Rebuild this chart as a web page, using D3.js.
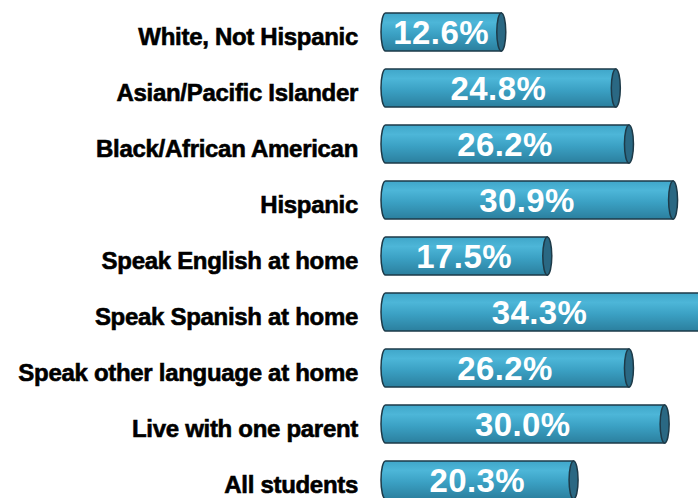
<!DOCTYPE html>
<html>
<head>
<meta charset="utf-8">
<script src="https://cdn.jsdelivr.net/npm/d3@7"></script>
<style>
  body { margin: 0; background: #fff; }
  svg { display: block; }
</style>
</head>
<body>
<div id="chart"></div>
<script>
// data
const categories = [
  "White, Not Hispanic",
  "Asian/Pacific Islander",
  "Black/African American",
  "Hispanic",
  "Speak English at home",
  "Speak Spanish at home",
  "Speak other language at home",
  "Live with one parent",
  "All students"
];
const values = [12.6, 24.8, 26.2, 30.9, 17.5, 34.3, 26.2, 30.0, 20.3];

const width = 698, height = 498;

const svg = d3.select("#chart").append("svg")
    .attr("width", width)
    .attr("height", height);

// gradient for the cylinder body
const defs = svg.append("defs");
const grad = defs.append("linearGradient")
    .attr("id", "barGrad")
    .attr("x1", 0).attr("y1", 0).attr("x2", 0).attr("y2", 1);
grad.append("stop").attr("offset", "0%").attr("stop-color", "#3fa6c9");
grad.append("stop").attr("offset", "25%").attr("stop-color", "#4db6d8");
grad.append("stop").attr("offset", "55%").attr("stop-color", "#3ba1c4");
grad.append("stop").attr("offset", "100%").attr("stop-color", "#2b7f9e");

const x = d3.scaleLinear()
    .domain([0, 34.3])
    .range([383, 705]);

const y = d3.scaleBand()
    .domain(categories)
    .range([4, 508])
    .paddingInner(0.32)
    .paddingOuter(0.16);

const data = categories.map((c, i) => ({ cat: c, val: values[i] }));

const rows = svg.selectAll(".row")
    .data(data)
    .enter().append("g")
    .attr("class", "row");

const capRx = 4.5;

// body of the cylinder
rows.append("path")
    .attr("d", d => {
      const x0 = x(0) - 2, x1 = x(d.val);
      const y0 = y(d.cat), h = y.bandwidth();
      return `M${x1},${y0} L${x0 + capRx},${y0}
              A${capRx},${h / 2} 0 0 0 ${x0 + capRx},${y0 + h}
              L${x1},${y0 + h} Z`;
    })
    .attr("fill", "url(#barGrad)")
    .attr("stroke", "#1d3a48")
    .attr("stroke-width", 1.5);

// right end cap
rows.append("ellipse")
    .attr("cx", d => x(d.val))
    .attr("cy", d => y(d.cat) + y.bandwidth() / 2)
    .attr("rx", capRx)
    .attr("ry", y.bandwidth() / 2)
    .attr("fill", "#2a6883")
    .attr("stroke", "#1d3a48")
    .attr("stroke-width", 1.5);

// value labels inside bars
rows.append("text")
    .attr("x", d => (x(0) - 2 + Math.min(x(d.val), width)) / 2)
    .attr("y", d => y(d.cat) + y.bandwidth() / 2 + 12)
    .attr("text-anchor", "middle")
    .attr("fill", "#fff")
    .style("font-family", "'Liberation Sans', Arial, sans-serif")
    .style("font-weight", "bold")
    .style("font-size", "33px")
    .style("letter-spacing", "0.4px")
    .text(d => d.val.toFixed(1) + "%");

// category labels
rows.append("text")
    .attr("x", 358)
    .attr("y", d => y(d.cat) + y.bandwidth() / 2 + 13)
    .attr("text-anchor", "end")
    .attr("fill", "#000")
    .attr("stroke", "#000")
    .attr("stroke-width", 0.6)
    .style("font-family", "'Liberation Sans', Arial, sans-serif")
    .style("font-weight", "bold")
    .style("font-size", "24px")
    .style("letter-spacing", "-0.3px")
    .text(d => d.cat);
</script>
</body>
</html>
